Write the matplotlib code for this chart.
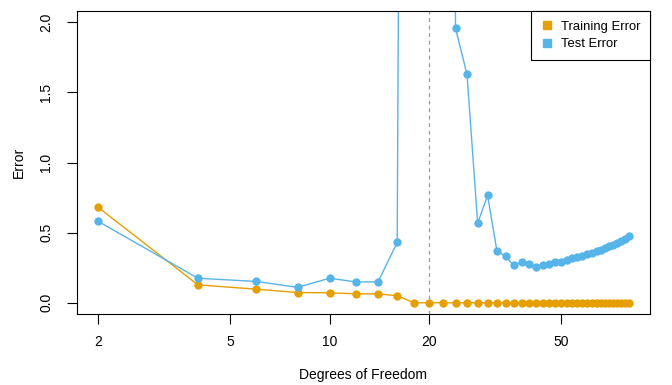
import matplotlib
matplotlib.use("Agg")
import matplotlib.pyplot as plt
import numpy as np

plt.rcParams['font.family'] = ['Liberation Sans', 'DejaVu Sans']

dof = np.arange(2, 82, 2)
train_err = [0.68, 0.128, 0.097, 0.073, 0.071, 0.064, 0.064, 0.05, 0.0, 0.0,
             0.0, 0.0, 0.0, 0.0, 0.0, 0.0, 0.0, 0.0, 0.0, 0.0,
             0.0, 0.0, 0.0, 0.0, 0.0, 0.0, 0.0, 0.0, 0.0, 0.0,
             0.0, 0.0, 0.0, 0.0, 0.0, 0.0, 0.0, 0.0, 0.0, 0.0]
test_err = [0.58, 0.175, 0.152, 0.11, 0.175, 0.149, 0.149, 0.43, 25.0, 60.0,
            20.0, 1.957, 1.628, 0.567, 0.766, 0.372, 0.33, 0.266, 0.292, 0.28,
            0.256, 0.268, 0.275, 0.292, 0.294, 0.308, 0.318, 0.328, 0.337, 0.347,
            0.357, 0.368, 0.379, 0.39, 0.402, 0.415, 0.428, 0.442, 0.458, 0.477]

orange = "#E69F00"
blue = "#56B4E9"

fig = plt.figure(figsize=(6.72, 3.85), dpi=100)
ax = fig.add_axes([0.1146, 0.1844, 0.8524, 0.787])

ax.plot(dof, train_err, color=orange, lw=1, marker='o', ms=6, mew=0)
ax.plot(dof, test_err, color=blue, lw=1, marker='o', ms=6, mew=0)
ax.axvline(20, color='#999999', lw=0.9, ls=(0, (3, 3)))

ax.set_xscale('log')
lo, hi = np.log10(2), np.log10(80)
pad = 0.04 * (hi - lo)
ax.set_xlim(10 ** (lo - pad), 10 ** (hi + pad))
ax.set_ylim(-0.08, 2.08)

ax.set_xticks([2, 5, 10, 20, 50])
ax.set_xticklabels(['2', '5', '10', '20', '50'])
ax.xaxis.set_minor_locator(matplotlib.ticker.NullLocator())
ax.set_yticks([0.0, 0.5, 1.0, 1.5, 2.0])
ax.set_yticklabels(['0.0', '0.5', '1.0', '1.5', '2.0'], rotation=90, va='center')
ax.tick_params(length=7, width=0.8, labelsize=10)
ax.tick_params(axis='x', pad=8)
ax.tick_params(axis='y', pad=10)
for s in ax.spines.values():
    s.set_linewidth(0.8)

ax.set_xlabel('Degrees of Freedom', fontsize=10, labelpad=14)
ax.set_ylabel('Error', fontsize=10, labelpad=10)

from matplotlib.lines import Line2D
handles = [Line2D([], [], ls='', marker='s', ms=6, color=orange),
           Line2D([], [], ls='', marker='s', ms=6, color=blue)]
leg = ax.legend(handles, ['Training Error', 'Test Error'], loc='upper right',
                bbox_to_anchor=(1.0, 1.0), borderaxespad=0, fontsize=9.4,
                frameon=True, fancybox=False, framealpha=1, handlelength=1,
                handletextpad=0.5, labelspacing=0.4, borderpad=0.75)
leg.get_frame().set_edgecolor('black')
leg.get_frame().set_linewidth(0.8)

fig.savefig('out.png', dpi=100)
